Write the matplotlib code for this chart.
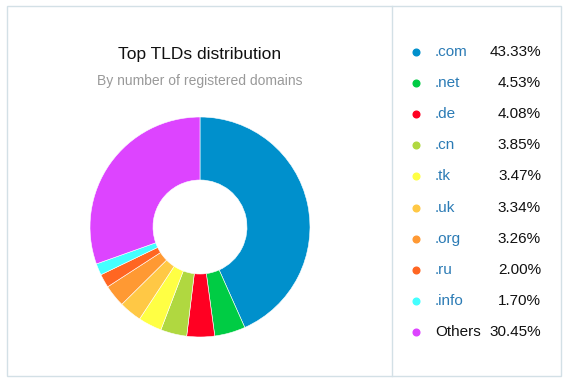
import matplotlib
matplotlib.use("Agg")
import matplotlib.pyplot as plt
from matplotlib.patches import Rectangle
from matplotlib.lines import Line2D

plt.rcParams['font.family'] = ['Liberation Sans', 'DejaVu Sans']

# data
labels = [".com", ".net", ".de", ".cn", ".tk", ".uk", ".org", ".ru", ".info", "Others"]
shares = [43.33, 4.53, 4.08, 3.85, 3.47, 3.34, 3.26, 2.00, 1.70, 30.45]
colors = ["#0090cc", "#00cc44", "#ff0022", "#b0d840", "#ffff44",
          "#ffc845", "#ff9933", "#ff6622", "#44ffff", "#dd44ff"]

W, H = 568, 384
fig = plt.figure(figsize=(W / 100, H / 100), dpi=100)
fig.patch.set_facecolor("white")

def fx(x):
    return x / W

def fy(y):
    return 1 - y / H

# frame + divider
fig.add_artist(Rectangle((fx(7), fy(376)), fx(561) - fx(7), fy(6) - fy(376),
                         fill=False, edgecolor="#d3e0e6", lw=1.0,
                         transform=fig.transFigure))
fig.add_artist(Line2D([fx(392), fx(392)], [fy(6), fy(376)], color="#d3e0e6",
                      lw=1.0, transform=fig.transFigure))

# titles
fig.text(fx(200), fy(54), "Top TLDs distribution", ha="center", va="center",
         fontsize=12.5, color="#111111")
fig.text(fx(200), fy(81), "By number of registered domains", ha="center",
         va="center", fontsize=10, color="#999999")

# donut
cx, cy, r = 200, 227, 110
ax = fig.add_axes([fx(cx - r), fy(cy + r), 2 * r / W, 2 * r / H])
ax.pie(shares, colors=colors, startangle=90, counterclock=False,
       wedgeprops=dict(width=(110 - 47) / 110, edgecolor="white", linewidth=0.4))
ax.set_xlim(-1, 1)
ax.set_ylim(-1, 1)
ax.set_aspect("auto")
ax.axis("off")

# legend
y0, dy = 52, 31.1
for i, (lab, val, c) in enumerate(zip(labels, shares, colors)):
    y = y0 + i * dy
    fig.add_artist(Line2D([fx(416)], [fy(y)], marker="o", markersize=4.8,
                          color=c, lw=0, transform=fig.transFigure))
    fig.text(fx(435), fy(y), lab, ha="left", va="center", fontsize=11,
             color="#111111" if lab == "Others" else "#2b7bb5")
    fig.text(fx(541), fy(y), f"{val:.2f}%", ha="right", va="center",
             fontsize=11, color="#111111")

fig.savefig("out.png", dpi=100)
